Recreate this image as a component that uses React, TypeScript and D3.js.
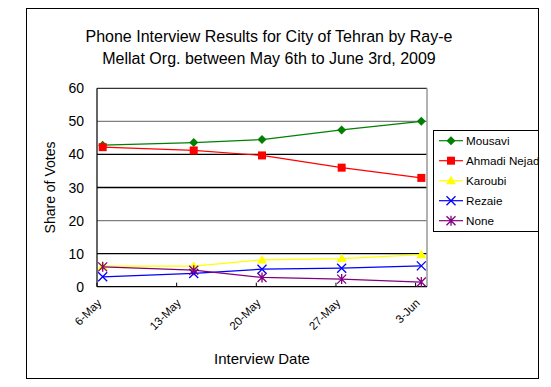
import React from "react";
import * as d3 from "d3";

const titleLines = [
  "Phone Interview Results for City of Tehran by Ray-e",
  "Mellat Org. between May 6th to June 3rd, 2009",
];
const surveyDates = ["2009-05-06", "2009-05-14", "2009-05-20", "2009-05-27", "2009-06-03"];
const tickDates = ["2009-05-06", "2009-05-13", "2009-05-20", "2009-05-27", "2009-06-03"];
const tickLabels = ["6-May", "13-May", "20-May", "27-May", "3-Jun"];
const yTicks = [0, 10, 20, 30, 40, 50, 60];

const mousavi = [42.8, 43.6, 44.5, 47.4, 50.0];
const ahmadi = [42.2, 41.2, 39.7, 36.0, 32.9];
const karoubi = [6.2, 6.2, 8.1, 8.5, 9.7];
const rezaie = [3.0, 4.0, 5.3, 5.6, 6.3];
const none = [6.0, 5.0, 2.8, 2.3, 1.4];

const seriesNames = ["Mousavi", "Ahmadi Nejad", "Karoubi", "Rezaie", "None"];
const seriesColors = ["#008000", "#FF0000", "#FFFF00", "#0000FF", "#800080"];
const seriesShapes = ["diamond", "square", "triangle", "x", "star"];
const seriesValues = [mousavi, ahmadi, karoubi, rezaie, none];

const parse = d3.utcParse("%Y-%m-%d");

function Marker({ shape, x, y, color }: { shape: string; x: number; y: number; color: string }) {
  if (shape === "diamond") {
    const s = 4.5;
    return <path d={`M${x},${y - s}L${x + s},${y}L${x},${y + s}L${x - s},${y}Z`} fill={color} />;
  }
  if (shape === "square") {
    return <rect x={x - 4} y={y - 4} width={8} height={8} fill={color} />;
  }
  if (shape === "triangle") {
    return <path d={`M${x},${y - 5}L${x + 5},${y + 3.5}L${x - 5},${y + 3.5}Z`} fill={color} />;
  }
  if (shape === "x") {
    const s = 4.5;
    return (
      <path d={`M${x - s},${y - s}L${x + s},${y + s}M${x - s},${y + s}L${x + s},${y - s}`} stroke={color} strokeWidth={1.3} fill="none" />
    );
  }
  const s = 4.5;
  return (
    <path
      d={`M${x - s},${y - s}L${x + s},${y + s}M${x - s},${y + s}L${x + s},${y - s}M${x},${y - s - 0.5}L${x},${y + s + 0.5}`}
      stroke={color}
      strokeWidth={1.3}
      fill="none"
    />
  );
}

export default function App() {
  const W = 551, H = 387;
  const left = 97, right = 427, top = 88.3, bottom = 286.7;
  const start = parse("2009-05-06")!;
  const end = parse("2009-06-04")!;
  const x = d3.scaleUtc().domain([start, end]).range([left, right]);
  const y = d3.scaleLinear().domain([0, 60]).range([bottom, top]);
  const halfDay = 12 * 3600 * 1000;
  const pts = surveyDates.map((d) => new Date(parse(d)!.getTime() + halfDay));
  const line = d3
    .line<number>()
    .x((_, i) => x(pts[i]))
    .y((v) => y(v));
  const font = "Arial, 'Liberation Sans', sans-serif";
  const gridColor = (v: number) => (v === 50 || v === 20 ? "#808080" : "#000");

  return (
    <svg width={W} height={H} style={{ position: "absolute", left: 0, top: 0 }} fontFamily={font}>
      <rect x={0} y={0} width={W} height={H} fill="#fff" />
      <rect x={26.5} y={8.5} width={512} height={370} fill="#fff" stroke="#000" strokeWidth={1} />
      {titleLines.map((t, i) => (
        <text key={i} x={269} y={42 + i * 22} textAnchor="middle" fontSize={16} fill="#000">
          {t}
        </text>
      ))}
      {/* grid */}
      {yTicks.filter((v) => v > 0).map((v) => (
        <line key={v} x1={left} x2={right} y1={y(v)} y2={y(v)} stroke={gridColor(v)} strokeWidth={v === 60 ? 1 : 1.3} />
      ))}
      {/* plot right border */}
      <line x1={right} x2={right} y1={top} y2={bottom} stroke="#999" strokeWidth={1.5} />
      {/* axes */}
      <line x1={left} x2={left} y1={top} y2={bottom} stroke="#000" strokeWidth={1.2} />
      <line x1={left} x2={right} y1={bottom} y2={bottom} stroke="#000" strokeWidth={1.2} />
      {tickDates.map((d, i) => {
        const tx = x(parse(d)!);
        return <line key={"t" + i} x1={tx} x2={tx} y1={bottom} y2={bottom - 4} stroke="#000" strokeWidth={1} />;
      })}
      {yTicks.map((v) => (
        <text key={"y" + v} x={84} y={y(v) + 5} textAnchor="end" fontSize={14} fill="#000">
          {v}
        </text>
      ))}
      {tickDates.map((d, i) => {
        const tx = x(parse(d)!);
        return (
          <text
            key={"xl" + i}
            transform={`translate(${tx + 5},${bottom + 17}) rotate(-45)`}
            textAnchor="end"
            fontSize={11.5}
            fill="#000"
          >
            {tickLabels[i]}
          </text>
        );
      })}
      <text x={262} y={364} textAnchor="middle" fontSize={15} fill="#000">
        Interview Date
      </text>
      <text transform={`translate(55,${(top + bottom) / 2}) rotate(-90)`} textAnchor="middle" fontSize={14} fill="#000">
        Share of Votes
      </text>
      {/* series */}
      {seriesValues.map((vals, si) => (
        <g key={"s" + si}>
          <path d={line(vals) || ""} fill="none" stroke={seriesColors[si]} strokeWidth={1.2} />
          {vals.map((v, i) => (
            <Marker key={i} shape={seriesShapes[si]} x={x(pts[i])} y={y(v)} color={seriesColors[si]} />
          ))}
        </g>
      ))}
      {/* legend */}
      <rect x={433.5} y={130.5} width={105} height={101} fill="#fff" stroke="#000" strokeWidth={1} />
      {seriesNames.map((n, i) => {
        const ly = 140.7 + i * 20;
        return (
          <g key={"lg" + i}>
            <line x1={439} x2={463} y1={ly} y2={ly} stroke={seriesColors[i]} strokeWidth={1.2} />
            <Marker shape={seriesShapes[i]} x={451} y={ly} color={seriesColors[i]} />
            <text x={466} y={ly + 4} fontSize={11.7} fill="#000">
              {n}
            </text>
          </g>
        );
      })}
    </svg>
  );
}
